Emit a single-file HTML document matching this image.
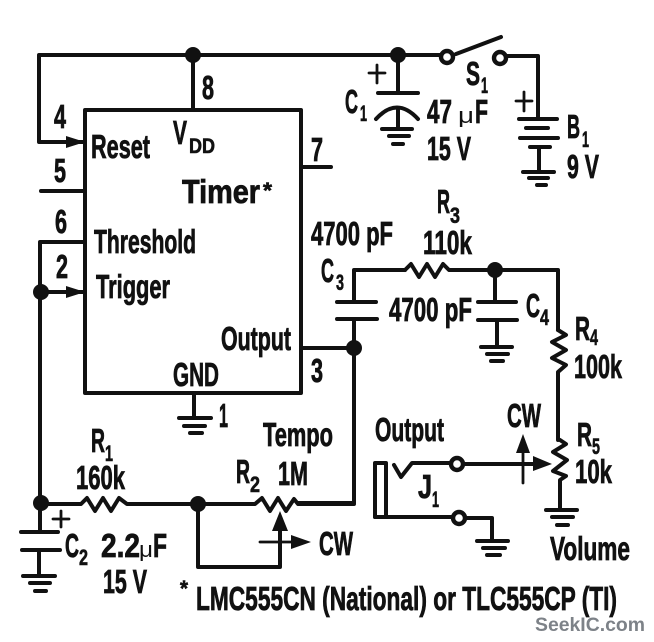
<!DOCTYPE html>
<html>
<head>
<meta charset="utf-8">
<style>
html,body{margin:0;padding:0;background:#fff}
svg{display:block}
text{font-family:"Liberation Sans",sans-serif;font-weight:bold;fill:#111;font-size:33px;stroke:#111;stroke-width:.8}
text.s{font-size:22px;stroke-width:.6}
text.d{font-size:21px;stroke-width:.6}
.w{fill:none;stroke:#111;stroke-width:4;stroke-linejoin:round;stroke-linecap:round}
.c{fill:#fff;stroke:#111;stroke-width:4.4}
.t{fill:none;stroke:#111;stroke-width:2.8;stroke-linejoin:round;stroke-linecap:round}
.b{fill:#111;stroke:none}
</style>
</head>
<body>
<svg width="654" height="642" viewBox="0 0 654 642" xmlns="http://www.w3.org/2000/svg">
<!-- top rail and timer box -->
<path class="w" d="M441 55H39V142H85"/>
<path class="w" d="M193 55V110"/>
<rect class="w" x="85" y="110" width="216" height="283"/>
<path class="w" d="M41 191H85M40 503V242H85M40 292H85M301 167H331"/>
<path class="b" d="M66 136L85 142L66 148ZM66 286L85 292L66 298Z"/>
<circle class="b" cx="193" cy="55" r="8"/>
<circle class="b" cx="41" cy="292" r="8"/>
<!-- pin 1 ground -->
<path class="w" d="M194 393V418M179 418H211M184 426H205"/>
<path class="w" d="M190 433H202"/>
<!-- C1 -->
<circle class="b" cx="398" cy="55" r="8"/>
<path class="w" d="M398 55V93M378 93H418M398 108V129M382 129H412M389 136H409M393 144H403"/>
<path class="w" d="M376 119Q397 96 418 119"/>
<path class="t" d="M369 73H385M377 65V83"/>
<!-- S1 -->
<circle class="c" cx="447" cy="57" r="6"/>
<path class="w" d="M456 54L501 37"/>
<circle class="c" cx="500" cy="58" r="6"/>
<path class="w" d="M506 56H538V119"/>
<!-- B1 -->
<path class="w" d="M519 119H557M526 128H548M520 138H558M530 147H550M539 147V172M523 172H554M529 178H548M537 185H546"/>
<path class="t" d="M516 101H532M524 92V111"/>
<!-- output wire, C3 -->
<path class="w" d="M301 348H354M354 319V503H298"/>
<circle class="b" cx="354" cy="348" r="8"/>
<path class="w" d="M337 302H376M337 319H377M354 302V270H405"/>
<path class="w" d="M405 270L411 264L419 277L427 264L435 277L443 264L449 270H558V330"/>
<circle class="b" cx="495" cy="270" r="8"/>
<!-- C4 -->
<path class="w" d="M495 270V302M478 302H516M478 320H517M497 320V346M481 347H512M487 354H508M491 361H503"/>
<!-- R4 -->
<path class="w" d="M558 330L566 335L552 342L566 350L552 358L566 365L558 372V440"/>
<!-- R5 -->
<path class="w" d="M560 440L566 444L553 452L567 460L553 471L566 476L560 480V508M546 510H577M552 517H573M557 525H568"/>
<!-- J1 -->
<path class="w" d="M451 464H541"/>
<path class="b" d="M533 456L552 464L533 471Z"/>
<path class="t" d="M523 483V445"/>
<path class="b" d="M523 434L530 453L516 453Z"/>
<path class="w" d="M451 463H412L401 477L394 465"/>
<circle class="c" cx="457" cy="464" r="6"/>
<rect class="w" x="375" y="463" width="11" height="54"/>
<path class="w" d="M375 517H453"/>
<path class="w" d="M465 518H492V541M477 541H508M483 548H505M487 555H500"/>
<circle class="c" cx="459" cy="518" r="6"/>
<!-- bottom -->
<circle class="b" cx="41" cy="503" r="8"/>
<path class="w" d="M41 504H81L87 498L95 511L103 498L111 511L119 498L127 504H255L262 498L270 511L278 498L286 511L294 499L298 504H354"/>
<circle class="b" cx="198" cy="504" r="8"/>
<path class="w" d="M198 504V567H280V530"/>
<path class="b" d="M280 511L288 531L272 531Z"/>
<path class="t" d="M260 542H296"/>
<path class="b" d="M291 535L311 542L291 549Z"/>
<!-- C2 -->
<path class="w" d="M40 504V532M21 532H58M22 550H60M39 550V575M23 576H55M30 583H50M35 591H46"/>
<path class="t" d="M53 519H69M61 511V527"/>

<!-- labels -->
<text x="202" y="99" textLength="12" lengthAdjust="spacingAndGlyphs">8</text>
<text x="54" y="128" textLength="12" lengthAdjust="spacingAndGlyphs">4</text>
<text x="54" y="182" textLength="12" lengthAdjust="spacingAndGlyphs">5</text>
<text x="55" y="233" textLength="12" lengthAdjust="spacingAndGlyphs">6</text>
<text x="56" y="278" textLength="12" lengthAdjust="spacingAndGlyphs">2</text>
<text x="311" y="161" textLength="12" lengthAdjust="spacingAndGlyphs">7</text>
<text x="311" y="382" textLength="12" lengthAdjust="spacingAndGlyphs">3</text>
<text x="219" y="427" textLength="9" lengthAdjust="spacingAndGlyphs">1</text>
<text x="91" y="158" textLength="59" lengthAdjust="spacingAndGlyphs">Reset</text>
<text x="173" y="144" textLength="14" lengthAdjust="spacingAndGlyphs">V</text>
<text class="d" x="189" y="153" textLength="26" lengthAdjust="spacingAndGlyphs">DD</text>
<text x="182" y="203" textLength="78" lengthAdjust="spacingAndGlyphs">Timer</text>
<text class="s" x="263" y="198" textLength="9" lengthAdjust="spacingAndGlyphs">*</text>
<text x="94" y="253" textLength="102" lengthAdjust="spacingAndGlyphs">Threshold</text>
<text x="96" y="298" textLength="74" lengthAdjust="spacingAndGlyphs">Trigger</text>
<text x="221" y="350" textLength="70" lengthAdjust="spacingAndGlyphs">Output</text>
<text x="173" y="386" textLength="46" lengthAdjust="spacingAndGlyphs">GND</text>
<text x="263" y="446" textLength="70" lengthAdjust="spacingAndGlyphs">Tempo</text>
<text x="236" y="483" textLength="14" lengthAdjust="spacingAndGlyphs">R</text>
<text class="s" x="250" y="492" textLength="10" lengthAdjust="spacingAndGlyphs">2</text>
<text x="278" y="485" textLength="30" lengthAdjust="spacingAndGlyphs">1M</text>
<text x="91" y="452" textLength="14" lengthAdjust="spacingAndGlyphs">R</text>
<text class="s" x="105" y="461" textLength="8" lengthAdjust="spacingAndGlyphs">1</text>
<text x="76" y="489" textLength="49" lengthAdjust="spacingAndGlyphs">160k</text>
<text x="65" y="557" textLength="14" lengthAdjust="spacingAndGlyphs">C</text>
<text class="s" x="79" y="565" textLength="9" lengthAdjust="spacingAndGlyphs">2</text>
<text x="101" y="557" textLength="39" lengthAdjust="spacingAndGlyphs">2.2</text>
<text class="s" x="139" y="557" textLength="14" lengthAdjust="spacingAndGlyphs" style="font-weight:normal;stroke-width:0">μ</text>
<text x="153" y="557" textLength="14" lengthAdjust="spacingAndGlyphs">F</text>
<text x="103" y="593" textLength="44" lengthAdjust="spacingAndGlyphs">15 V</text>
<text class="s" x="180" y="596" textLength="8" lengthAdjust="spacingAndGlyphs">*</text>
<text x="196" y="610" textLength="421" lengthAdjust="spacingAndGlyphs">LMC555CN (National) or TLC555CP (TI)</text>
<text x="319" y="555" textLength="34" lengthAdjust="spacingAndGlyphs">CW</text>
<text x="375" y="441" textLength="69" lengthAdjust="spacingAndGlyphs">Output</text>
<text x="507" y="427" textLength="34" lengthAdjust="spacingAndGlyphs">CW</text>
<text x="577" y="446" textLength="15" lengthAdjust="spacingAndGlyphs">R</text>
<text class="s" x="592" y="454" textLength="8" lengthAdjust="spacingAndGlyphs">5</text>
<text x="575" y="483" textLength="37" lengthAdjust="spacingAndGlyphs">10k</text>
<text x="418" y="498" textLength="14" lengthAdjust="spacingAndGlyphs">J</text>
<text class="s" x="432" y="507" textLength="7" lengthAdjust="spacingAndGlyphs">1</text>
<text x="550" y="560" textLength="80" lengthAdjust="spacingAndGlyphs">Volume</text>
<text x="311" y="245" textLength="82" lengthAdjust="spacingAndGlyphs">4700 pF</text>
<text x="321" y="282" textLength="13" lengthAdjust="spacingAndGlyphs">C</text>
<text class="s" x="336" y="290" textLength="8" lengthAdjust="spacingAndGlyphs">3</text>
<text x="437" y="213" textLength="13" lengthAdjust="spacingAndGlyphs">R</text>
<text class="s" x="450" y="223" textLength="10" lengthAdjust="spacingAndGlyphs">3</text>
<text x="423" y="254" textLength="49" lengthAdjust="spacingAndGlyphs">110k</text>
<text x="389" y="321" textLength="83" lengthAdjust="spacingAndGlyphs">4700 pF</text>
<text x="526" y="317" textLength="14" lengthAdjust="spacingAndGlyphs">C</text>
<text class="s" x="540" y="325" textLength="9" lengthAdjust="spacingAndGlyphs">4</text>
<text x="575" y="340" textLength="15" lengthAdjust="spacingAndGlyphs">R</text>
<text class="s" x="590" y="345" textLength="8" lengthAdjust="spacingAndGlyphs">4</text>
<text x="574" y="378" textLength="48" lengthAdjust="spacingAndGlyphs">100k</text>
<text x="345" y="113" textLength="13" lengthAdjust="spacingAndGlyphs">C</text>
<text class="s" x="360" y="121" textLength="7" lengthAdjust="spacingAndGlyphs">1</text>
<text x="427" y="123" textLength="25" lengthAdjust="spacingAndGlyphs">47</text>
<text class="s" x="458" y="123" textLength="16" lengthAdjust="spacingAndGlyphs" style="font-weight:normal;stroke-width:0">μ</text>
<text x="475" y="123" textLength="13" lengthAdjust="spacingAndGlyphs">F</text>
<text x="427" y="160" textLength="44" lengthAdjust="spacingAndGlyphs">15 V</text>
<text x="466" y="85" textLength="14" lengthAdjust="spacingAndGlyphs">S</text>
<text class="s" x="481" y="93" textLength="7" lengthAdjust="spacingAndGlyphs">1</text>
<text x="567" y="138" textLength="13" lengthAdjust="spacingAndGlyphs">B</text>
<text class="s" x="582" y="147" textLength="7" lengthAdjust="spacingAndGlyphs">1</text>
<text x="567" y="178" textLength="32" lengthAdjust="spacingAndGlyphs">9 V</text>
<text x="535" y="631" textLength="110" lengthAdjust="spacingAndGlyphs" style="font-size:19px;fill:#7d8288;stroke:none">SeekIC.com</text>
</svg>
</body>
</html>
